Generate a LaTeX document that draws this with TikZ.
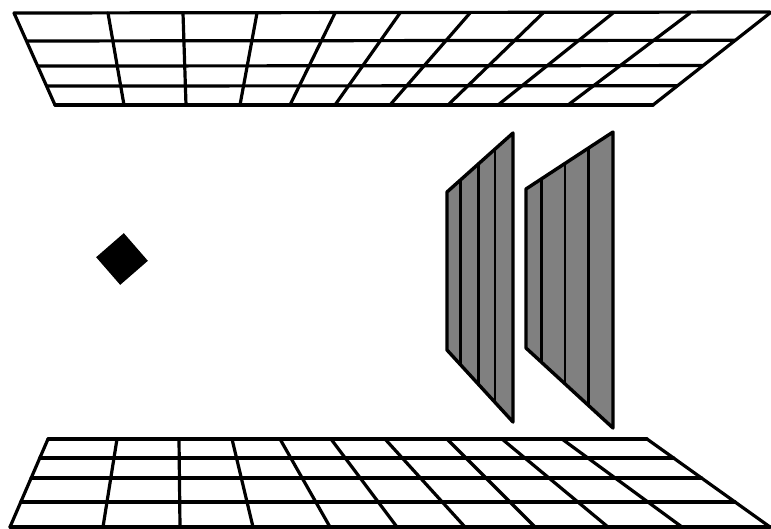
\documentclass[tikz,border=0pt]{standalone}
\usepackage{tikz}
\usepackage{xcolor}
\usetikzlibrary{calc,shapes.geometric}

\begin{document}
\begin{tikzpicture}[x=1pt, y=-1pt,
  gridline/.style={line width=3.2pt, line cap=round, line join=round},
  panelbox/.style={fill=black!50, draw=black, line width=3.4pt, line join=round},
  panelline/.style={line width=2.6pt}]
\useasboundingbox (0,0) rectangle (771,528);

% ceiling
\begin{scope}
  \coordinate (cTL) at (14,13);
  \coordinate (cTR) at (770,12);
  \coordinate (cBL) at (55,105);
  \coordinate (cBR) at (653,105);
  \foreach \t in {0,0.304,0.576,0.793,1}
    \draw[gridline] ($(cTL)!\t!(cBL)$) -- ($(cTR)!\t!(cBR)$);
  \foreach \a/\b in {14/55,108/124,183/186,257/240,335/290,400/335,
                     470/390,543/448,613/498,690/568,770/653}
    \draw[gridline] (\a,13) -- (\b,105);
\end{scope}

% floor
\begin{scope}
  \coordinate (fTL) at (48,439);
  \coordinate (fTR) at (647,439);
  \coordinate (fBL) at (10,527);
  \coordinate (fBR) at (770,527);
  \foreach \t in {0,0.216,0.443,0.716,1}
    \draw[gridline] ($(fTL)!\t!(fBL)$) -- ($(fTR)!\t!(fBR)$);
  \foreach \a/\b in {48/10,117/103,179/180,232/253,280/330,331/397,
                     385/465,447/535,502/608,562/682,647/770}
    \draw[gridline] (\a,439) -- (\b,527);
\end{scope}

% light
\node[diamond, fill=black, minimum size=52pt, inner sep=0pt, rotate=-4]
  (lamp) at (122,259) {};

% panels
\begin{scope}
  \coordinate (pA1) at (447,192);
  \coordinate (pB1) at (513,133);
  \coordinate (pC1) at (513,422);
  \coordinate (pD1) at (447,350);
  \filldraw[panelbox] (pA1) -- (pB1) -- (pC1) -- (pD1) -- cycle;
  \foreach \f in {0.2,0.475,0.725}
    \draw[panelline] ($(pA1)!\f!(pB1)$) -- ($(pD1)!\f!(pC1)$);
\end{scope}
\begin{scope}
  \coordinate (pA2) at (526,189);
  \coordinate (pB2) at (613,132);
  \coordinate (pC2) at (613,428);
  \coordinate (pD2) at (526,348);
  \filldraw[panelbox] (pA2) -- (pB2) -- (pC2) -- (pD2) -- cycle;
  \foreach \f in {0.18,0.45,0.72}
    \draw[panelline] ($(pA2)!\f!(pB2)$) -- ($(pD2)!\f!(pC2)$);
\end{scope}
\end{tikzpicture}
\end{document}
